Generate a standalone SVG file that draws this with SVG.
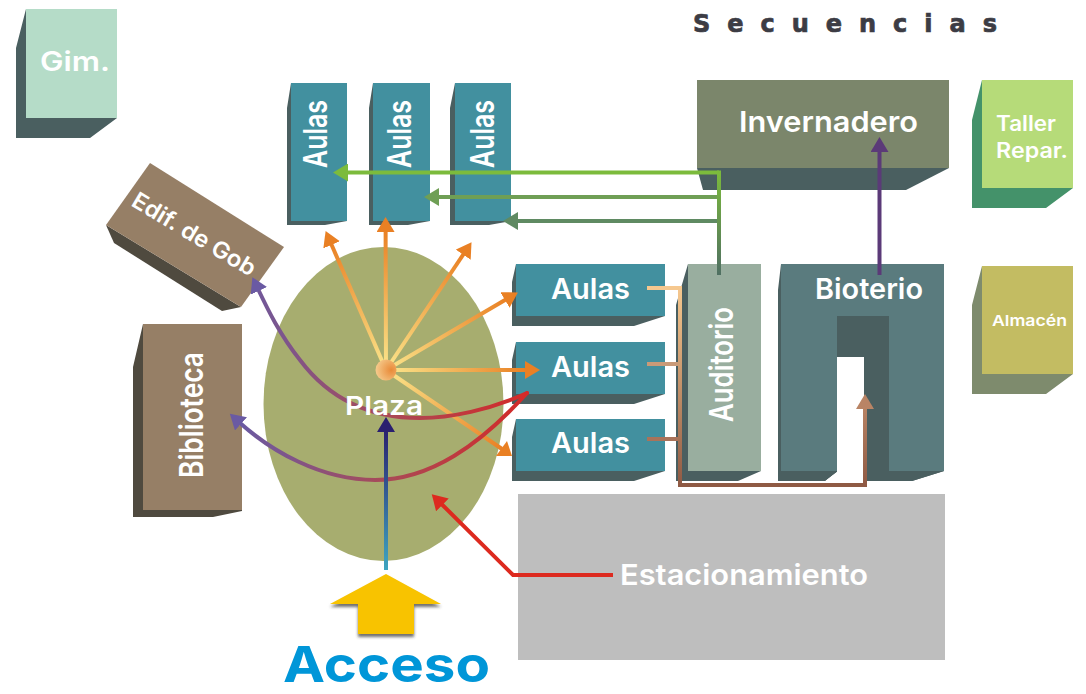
<svg xmlns="http://www.w3.org/2000/svg" width="1086" height="694" viewBox="0 0 1086 694">
<style>
text{font-family:"Inter","Liberation Sans",Arial,sans-serif;font-weight:600;fill:#fff}
.dk{fill:#4a5f60}.teal{fill:#42909f}.brown{fill:#967f66}.bdk{fill:#4f4a3f}
.l28{font-size:29px}
.v{font-size:33px}
.ln{fill:none;stroke-width:4}
</style>
<defs>
<marker id="hO" markerUnits="userSpaceOnUse" markerWidth="16" markerHeight="18" refX="2" refY="9" orient="auto"><path d="M0,0L15,9L0,18Z" fill="#e98024"/></marker>
<marker id="hP" markerUnits="userSpaceOnUse" markerWidth="16" markerHeight="18" refX="2" refY="9" orient="auto"><path d="M0,0L15,9L0,18Z" fill="#6a5aa3"/></marker>
<marker id="hN" markerUnits="userSpaceOnUse" markerWidth="16" markerHeight="18" refX="2" refY="9" orient="auto"><path d="M0,0L15,9L0,18Z" fill="#2a1f6f"/></marker>
<marker id="hR" markerUnits="userSpaceOnUse" markerWidth="16" markerHeight="18" refX="2" refY="9" orient="auto"><path d="M0,0L15,9L0,18Z" fill="#dd2a1f"/></marker>
<marker id="hV" markerUnits="userSpaceOnUse" markerWidth="16" markerHeight="18" refX="2" refY="9" orient="auto"><path d="M0,0L15,9L0,18Z" fill="#5b3a78"/></marker>
<marker id="hB" markerUnits="userSpaceOnUse" markerWidth="16" markerHeight="18" refX="2" refY="9" orient="auto"><path d="M0,0L15,9L0,18Z" fill="#b98465"/></marker>
<marker id="hG1" markerUnits="userSpaceOnUse" markerWidth="16" markerHeight="18" refX="2" refY="9" orient="auto"><path d="M0,0L15,9L0,18Z" fill="#7cbb3c"/></marker>
<marker id="hG2" markerUnits="userSpaceOnUse" markerWidth="16" markerHeight="18" refX="2" refY="9" orient="auto"><path d="M0,0L15,9L0,18Z" fill="#6f9f55"/></marker>
<marker id="hG3" markerUnits="userSpaceOnUse" markerWidth="16" markerHeight="18" refX="2" refY="9" orient="auto"><path d="M0,0L15,9L0,18Z" fill="#5f8a62"/></marker>
<linearGradient id="g1" gradientUnits="userSpaceOnUse" x1="386" y1="370" x2="330.8" y2="243"><stop offset="0" stop-color="#fbe68c"/><stop offset="1" stop-color="#e98024"/></linearGradient>
<linearGradient id="g2" gradientUnits="userSpaceOnUse" x1="386" y1="370" x2="385.6" y2="230"><stop offset="0" stop-color="#fbe68c"/><stop offset="1" stop-color="#e98024"/></linearGradient>
<linearGradient id="g3" gradientUnits="userSpaceOnUse" x1="386" y1="370" x2="464" y2="253"><stop offset="0" stop-color="#fbe68c"/><stop offset="1" stop-color="#e98024"/></linearGradient>
<linearGradient id="g4" gradientUnits="userSpaceOnUse" x1="386" y1="370" x2="507" y2="299"><stop offset="0" stop-color="#fbe68c"/><stop offset="1" stop-color="#e98024"/></linearGradient>
<linearGradient id="g5" gradientUnits="userSpaceOnUse" x1="386" y1="370" x2="527" y2="370"><stop offset="0" stop-color="#fbe68c"/><stop offset="1" stop-color="#e98024"/></linearGradient>
<linearGradient id="g6" gradientUnits="userSpaceOnUse" x1="386" y1="370" x2="502" y2="449"><stop offset="0" stop-color="#fbe68c"/><stop offset="1" stop-color="#e98024"/></linearGradient>
<linearGradient id="gc" gradientUnits="userSpaceOnUse" x1="527" y1="0" x2="240" y2="0"><stop offset="0" stop-color="#d42a28"/><stop offset="0.5" stop-color="#a84a58"/><stop offset="1" stop-color="#6a5aa3"/></linearGradient>
<linearGradient id="gb" gradientUnits="userSpaceOnUse" x1="0" y1="570" x2="0" y2="430"><stop offset="0" stop-color="#3ea6c0"/><stop offset="1" stop-color="#2a1f6f"/></linearGradient>
<linearGradient id="gg" gradientUnits="userSpaceOnUse" x1="0" y1="275" x2="0" y2="172"><stop offset="0" stop-color="#4f6f62"/><stop offset="1" stop-color="#7cbb3c"/></linearGradient>
<linearGradient id="gt" gradientUnits="userSpaceOnUse" x1="0" y1="288" x2="0" y2="485"><stop offset="0" stop-color="#f6c88f"/><stop offset="1" stop-color="#8f5a44"/></linearGradient>
<linearGradient id="gt2" gradientUnits="userSpaceOnUse" x1="0" y1="485" x2="0" y2="405"><stop offset="0" stop-color="#8f5a44"/><stop offset="1" stop-color="#b98465"/></linearGradient>
<radialGradient id="hub" cx="0.75" cy="0.5" r="0.8"><stop offset="0" stop-color="#e98a38"/><stop offset="1" stop-color="#f6cf92"/></radialGradient>
<filter id="sh" x="-20%" y="-20%" width="140%" height="140%"><feDropShadow dx="0" dy="3" stdDeviation="1.5" flood-color="#333" flood-opacity="0.7"/></filter>
</defs>

<g id="title"><text x="693" y="32" font-size="24" textLength="304" lengthAdjust="spacing" style="font-family:'DejaVu Sans','Liberation Sans',sans-serif;font-weight:700;fill:#3c3c44;stroke:#3c3c44;stroke-width:0.7">Secuencias</text></g>

<g id="gim"><path class="dk" d="M26,9L16,48V138H90L117,118V110H26Z"/><rect x="26" y="9" width="91" height="109" fill="#b5dcc8"/><text x="40" y="71" font-size="27" textLength="70" lengthAdjust="spacingAndGlyphs">Gim.</text></g>

<g id="aulas-v1"><path class="dk" d="M291,83L287,108V225H325L347,221H291Z"/><rect class="teal" x="291" y="83" width="56" height="138"/><text class="v" transform="translate(327,168) rotate(-90)" textLength="68" lengthAdjust="spacingAndGlyphs">Aulas</text></g>
<g id="aulas-v2"><path class="dk" d="M373,83L369,108V225H408L430,221H373Z"/><rect class="teal" x="373" y="83" width="57" height="138"/><text class="v" transform="translate(411,168) rotate(-90)" textLength="68" lengthAdjust="spacingAndGlyphs">Aulas</text></g>
<g id="aulas-v3"><path class="dk" d="M455,83L450,108V225H489L511,221H455Z"/><rect class="teal" x="455" y="83" width="56" height="138"/><text class="v" transform="translate(494,168) rotate(-90)" textLength="68" lengthAdjust="spacingAndGlyphs">Aulas</text></g>

<g id="edif"><path class="bdk" d="M106,225L114,243L222,311L241,307Z"/><path class="brown" d="M150,163L284,247L241,307L106,225Z"/><text transform="translate(130,205) rotate(31)" font-size="23" textLength="140" lengthAdjust="spacingAndGlyphs">Edif. de Gob</text></g>

<g id="biblioteca"><path class="bdk" d="M143,324L133,367V517H213L242,511V505H143Z"/><rect class="brown" x="143" y="324" width="99" height="186"/><text class="v" transform="translate(203,478) rotate(-90)" textLength="126" lengthAdjust="spacingAndGlyphs">Biblioteca</text></g>

<g id="plaza"><ellipse cx="383.5" cy="404" rx="120" ry="157" fill="#a7ad6f"/></g>

<g id="aulas-h1"><path class="dk" d="M516,264L512,282V326H634L665,316H516Z"/><rect class="teal" x="516" y="264" width="149" height="52"/><text class="l28" x="551" y="299" textLength="79" lengthAdjust="spacingAndGlyphs">Aulas</text></g>
<g id="aulas-h2"><path class="dk" d="M516,342L512,360V404H634L665,394H516Z"/><rect class="teal" x="516" y="342" width="149" height="52"/><text class="l28" x="551" y="377" textLength="79" lengthAdjust="spacingAndGlyphs">Aulas</text></g>
<g id="aulas-h3"><path class="dk" d="M516,419L512,437V481H634L665,471H516Z"/><rect class="teal" x="516" y="419" width="149" height="52"/><text class="l28" x="551" y="453" textLength="79" lengthAdjust="spacingAndGlyphs">Aulas</text></g>

<g id="auditorio"><path class="dk" d="M688,264L676,305V481H738L761,471H688Z"/><rect x="688" y="264" width="73" height="207" fill="#99ae9f"/><text class="v" transform="translate(733,422) rotate(-90)" textLength="115" lengthAdjust="spacingAndGlyphs">Auditorio</text></g>

<g id="bioterio"><path class="dk" d="M781,264L778,290V481H825L837,472V316H889V471H944L912,481H864V357H837V316Z"/><path d="M781,264H944V471H889V316H837V471H781Z" fill="#5a7b7e"/><path class="dk" d="M837,316H889V471H944L912,481H864V357H837Z"/><path d="M837,357H864V481H825L837,472Z" fill="#fff"/><path class="dk" d="M778,471H837L825,481H778Z"/><text class="l28" x="815" y="299" textLength="108" lengthAdjust="spacingAndGlyphs">Bioterio</text></g>

<g id="invernadero"><path class="dk" d="M697,168L703,190H906L949,168Z"/><rect x="697" y="80" width="252" height="88" fill="#7b866b"/><text class="l28" x="739" y="132" textLength="179" lengthAdjust="spacingAndGlyphs">Invernadero</text></g>

<g id="taller"><path d="M982,80L972,120V208H1046L1073,188H982Z" fill="#44926a"/><rect x="982" y="80" width="91" height="108" fill="#b6db79"/><text x="996" y="131" font-size="21" textLength="60" lengthAdjust="spacingAndGlyphs">Taller</text><text x="996" y="158" font-size="21" textLength="72" lengthAdjust="spacingAndGlyphs">Repar.</text></g>

<g id="almacen"><path d="M982,266L972,305V394H1046L1073,374H982Z" fill="#7e8b6d"/><rect x="982" y="266" width="91" height="108" fill="#c3bc62"/><text x="992" y="326" font-size="15" textLength="75" lengthAdjust="spacingAndGlyphs">Almacén</text></g>

<g id="estacionamiento"><rect x="518" y="494" width="427" height="166" fill="#bebebe"/><text class="l28" x="620" y="585" textLength="248" lengthAdjust="spacingAndGlyphs">Estacionamiento</text></g>

<g id="acceso"><path d="M386,574L441,604H414V634H358V604H330Z" fill="#f8c300" filter="url(#sh)"/><text x="283" y="682" font-size="50" textLength="207" lengthAdjust="spacingAndGlyphs" style="fill:#0096d8;font-weight:700">Acceso</text></g>

<g id="connectors">
<path class="ln" stroke="url(#g1)" d="M386,370L330.8,243" marker-end="url(#hO)"/>
<path class="ln" stroke="url(#g2)" d="M386,370L385.6,230" marker-end="url(#hO)"/>
<path class="ln" stroke="url(#g3)" d="M386,370L464.3,253" marker-end="url(#hO)"/>
<path class="ln" stroke="url(#g4)" d="M386,370L506.7,299" marker-end="url(#hO)"/>
<path class="ln" stroke="url(#g5)" d="M386,370L527,370" marker-end="url(#hO)"/>
<path class="ln" stroke="url(#g6)" d="M386,370L502,449"/>
<path d="M496,456H512L507,441Z" fill="#e98024"/>
<circle cx="386" cy="370" r="10.5" fill="url(#hub)"/>
<path class="ln" stroke="url(#gc)" stroke-linecap="round" d="M527,393C490,410 450,418 420,418C370,418 330,400 300,360C280,335 268,310 258,289" marker-end="url(#hP)"/>
<path class="ln" stroke="url(#gc)" stroke-linecap="round" d="M527,393C480,445 430,480 375,480C320,480 270,450 239.5,422.5" marker-end="url(#hP)"/>
<path class="ln" stroke="url(#gb)" d="M386,570L386,430" marker-end="url(#hN)"/>
<path class="ln" stroke="#dd2a1f" d="M613,575H513L441,503.500" marker-end="url(#hR)"/>
<path class="ln" stroke="#5b3a78" d="M879.500,275V150" marker-end="url(#hV)"/>
<path class="ln" stroke="#7cbb3c" d="M719,172.500H346" marker-end="url(#hG1)"/>
<path class="ln" stroke="#6f9f55" d="M719,197H437" marker-end="url(#hG2)"/>
<path class="ln" stroke="#5f8a62" d="M719,221H516" marker-end="url(#hG3)"/>
<path class="ln" stroke="url(#gg)" d="M719,275V170.500"/>
<path class="ln" stroke="#f6c88f" d="M647,288H680"/>
<path class="ln" stroke="#c99a78" d="M647,364H680"/>
<path class="ln" stroke="#a9735a" d="M647,439H680"/>
<path class="ln" stroke="url(#gt)" d="M680,286V485"/>
<path class="ln" stroke="#8f5a44" d="M678,485H865"/>
<path class="ln" stroke="url(#gt2)" d="M865,487V407" marker-end="url(#hB)"/>
</g>

<g id="plaza-label"><text x="345" y="415" font-size="26" textLength="78" lengthAdjust="spacingAndGlyphs">Plaza</text></g>
</svg>
